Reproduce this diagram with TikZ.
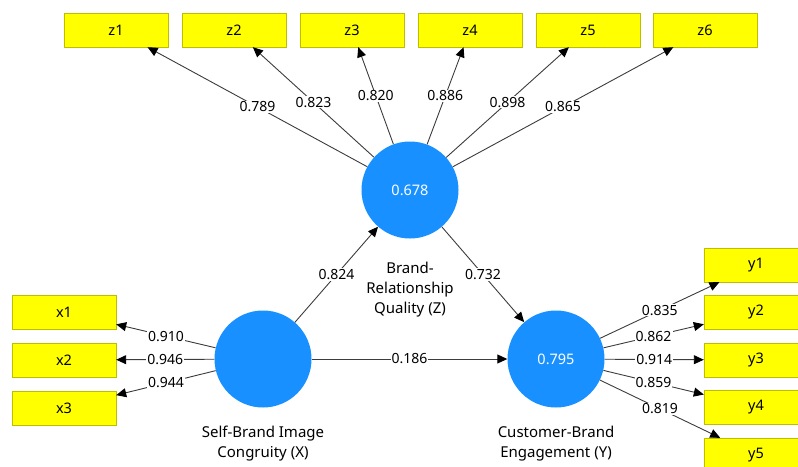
\documentclass[tikz,border=0pt]{standalone}
\usepackage{fontspec}
\setmainfont{Noto Sans}
\usetikzlibrary{arrows.meta,positioning}
\definecolor{lvblue}{RGB}{24,144,255}
\definecolor{indfill}{RGB}{255,255,0}
\definecolor{indline}{RGB}{190,190,0}
\definecolor{pathgray}{RGB}{60,60,60}
\tikzset{
  lv/.style={circle, fill=lvblue, minimum size=97pt, inner sep=0pt,
    text=white, font=\fontsize{14.5}{16}\selectfont},
  ind/.style={rectangle, draw=indline, fill=indfill, minimum width=104pt,
    minimum height=34pt, inner sep=0pt, font=\fontsize{14.5}{16}\selectfont},
  lvname/.style={align=center, font=\fontsize{15}{20}\selectfont, inner sep=0pt},
  wt/.style={fill=white, inner sep=1pt, font=\fontsize{14}{15}\selectfont},
  pth/.style={draw=pathgray, line width=0.9pt, -{Triangle[length=10pt,width=9pt,color=black]}}
}
\begin{document}
\begin{tikzpicture}[x=1pt,y=-1pt]

                % Frame.
                \useasboundingbox (0,0) rectangle (798,466);
                \clip (0,0) rectangle (798,466);

                % Latent variables.
                \node[lv] (Z) at (410,190) {0.678};
                \node[lv] (X) at (263,359) {};
                \node[lv] (Y) at (556,359) {0.795};

                \node[lvname, below=23pt of Z] (Zname) {Brand-\\Relationship\\Quality (Z)};
                \node[lvname, below=18pt of X] (Xname) {Self-Brand Image\\Congruity (X)};
                \node[lvname, below=18pt of Y] (Yname) {Customer-Brand\\Engagement (Y)};

                % Indicators of Z.
                \foreach \i/\x in {1/116,2/234,3/352,4/470,5/588,6/705}
                    \node[ind] (z\i) at (\x,30) {z\i};

                % Indicators of X.
                \foreach \i/\y in {1/312,2/360,3/408}
                    \node[ind] (x\i) at (64,\y) {x\i};

                % Indicators of Y.
                \foreach \i/\y in {1/265,2/312,3/360,4/407,5/455}
                    \node[ind] (y\i) at (756,\y) {y\i};

                % Outer loadings.
                \foreach \i/\w in {1/0.789,2/0.823,3/0.820,4/0.886,5/0.898,6/0.865}
                    \draw[pth] (Z) -- node[wt] {\w} (z\i);
                \foreach \i/\w in {1/0.910,2/0.946,3/0.944}
                    \draw[pth] (X) -- node[wt] {\w} (x\i);
                \foreach \i/\w in {1/0.835,2/0.862,3/0.914,4/0.859,5/0.819}
                    \draw[pth] (Y) -- node[wt] {\w} (y\i);

                % Path coefficients.
                \draw[pth] (X) -- node[wt] {0.824} (Z);
                \draw[pth] (Z) -- node[wt] {0.732} (Y);
                \draw[pth] (X) -- node[wt] {0.186} (Y);
\end{tikzpicture}
\end{document}
